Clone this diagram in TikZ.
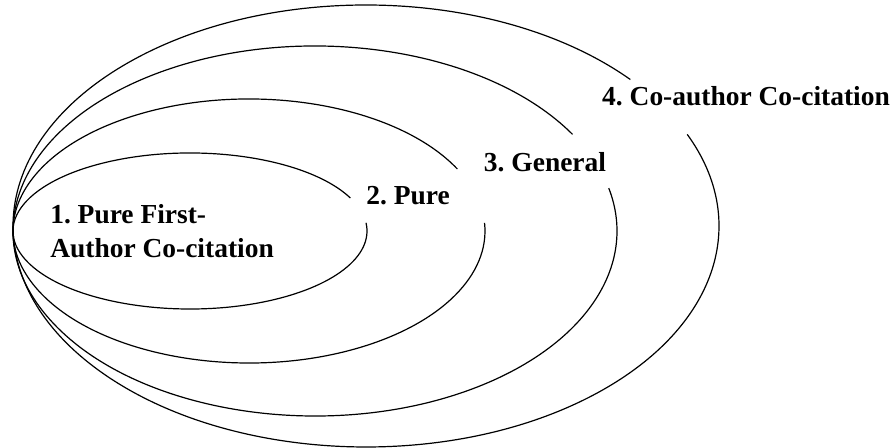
\documentclass[tikz,border=0pt]{standalone}
\usepackage{fontspec}
\setmainfont{Liberation Serif}
\usetikzlibrary{calc}
\frenchspacing
\def\centerellarc[#1](#2)(#3:#4:#5:#6){\draw[#1] ($(#2)+({#5*cos(#3)},{#6*sin(#3)})$) arc (#3:#4:#5 and #6);}

\begin{document}
\begin{tikzpicture}[x=0.75pt, y=0.75pt,
	ring/.style={line width=0.9pt, color=black},
	lbl/.style={inner sep=0pt, font=\fontsize{20.6}{25.5}\selectfont\bfseries}]
			%%%%% START %%%%%
			
			\useasboundingbox (0, 0) rectangle (895, 448);
			
			\centerellarc[ring](190, 217)(25:366:177:78);
			\centerellarc[ring](249, 217)(28:363.5:236:132);
			\centerellarc[ring](315, 217)(31.5:373.4:302:185);
			\centerellarc[ring](366, 222)(41.5:384.5:353:221);
			
			\node[lbl, anchor=west, align=left] (lblfirst) at (50, 216.5) {1. Pure First-\\Author Co-citation};
			\node[lbl] (lblpure) at (408, 252) {2. Pure};
			\node[lbl] (lblgeneral) at (545, 286) {3. General};
			\node[lbl] (lblcoauthor) at (746, 352) {4. Co-author Co-citation};
			
			%%%%% END %%%%%
		\end{tikzpicture}
\end{document}
